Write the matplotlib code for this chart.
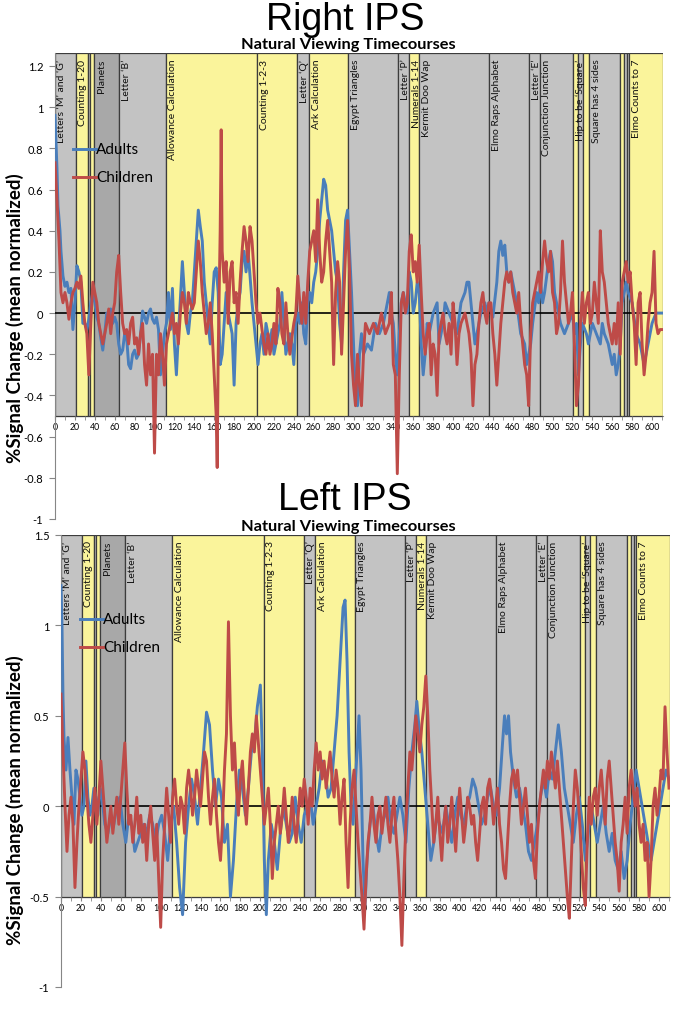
import matplotlib.pyplot as plt
from matplotlib.lines import Line2D
from matplotlib.ticker import MultipleLocator, FuncFormatter

plt.rcParams['font.family'] = ['Lato', 'DejaVu Sans']
plt.rcParams['axes.unicode_minus'] = False

# movie clips (seconds) shown behind the timecourses
seg_start = [0, 21, 33, 35.5, 39.5, 64.6, 111.5, 203.3, 243.5, 255.3, 294.8, 345, 355.8,
             366, 436.5, 476.7, 487.4, 521, 526, 531, 536.7, 567.8, 572, 574.5, 577]
seg_end = seg_start[1:] + [611]
seg_kind = ['g', 'y', 'g', 'y', 'd', 'g', 'y', 'y', 'g', 'y', 'g', 'g', 'y',
            'g', 'g', 'g', 'g', 'y', 'g', 'y', 'g', 'y', 'g', 'g', 'y']
seg_label = ['Letters ‘M’ and ‘G’', 'Counting 1-20', '', '', 'Planets', 'Letter ‘B’',
             'Allowance Calculation', 'Counting 1-2-3', 'Letter ‘Q’', 'Ark Calculation',
             'Egypt Triangles', 'Letter ‘P’', 'Numerals 1-14', 'Kermit Doo Wap',
             'Elmo Raps Alphabet', 'Letter ‘E’', 'Conjunction Junction', 'Hip to be ‘Square’',
             '', '', 'Square has 4 sides', '', '', '', 'Elmo Counts to 7']

# Right IPS
r_adult_t = [0, 2, 3, 5, 6, 8, 10, 12, 14, 16, 18, 20, 22, 24, 26, 28, 30, 32, 34, 36, 38, 40,
             42, 44, 46, 48, 50, 52, 54, 56, 58, 60, 62, 64, 66, 68, 70, 72, 74, 76, 78, 80, 82,
             84, 86, 88, 90, 92, 94, 96, 98, 100, 102, 104, 106, 108, 110, 112, 114, 116, 118,
             120, 122, 124, 126, 128, 130, 132, 134, 136, 138, 140, 142, 144, 146, 148, 150,
             152, 154, 156, 158, 160, 162, 164, 166, 168, 170, 172, 174, 176, 178, 180, 182,
             184, 186, 188, 190, 192, 194, 196, 198, 200, 202, 204, 206, 208, 210, 212, 214,
             216, 218, 220, 222, 224, 226, 228, 230, 232, 234, 236, 238, 240, 242, 244, 246,
             248, 250, 252, 254, 256, 258, 260, 262, 264, 266, 268, 270, 272, 274, 276, 278,
             280, 282, 284, 286, 288, 290, 292, 294, 296, 298, 300, 302, 304, 306, 308, 310,
             314, 318, 322, 326, 330, 334, 336, 338, 340, 342, 344, 346, 348, 350, 352, 354,
             356, 358, 360, 362, 364, 366, 368, 370, 372, 374, 376, 378, 380, 384, 386, 388,
             390, 392, 396, 400, 404, 408, 412, 414, 416, 418, 420, 422, 424, 428, 432, 434,
             436, 440, 444, 446, 448, 450, 452, 454, 456, 458, 460, 462, 464, 468, 472, 474,
             476, 478, 480, 484, 486, 488, 490, 492, 496, 498, 500, 502, 504, 506, 508, 512,
             516, 520, 522, 524, 526, 528, 530, 534, 536, 540, 544, 548, 550, 552, 556, 558,
             560, 562, 564, 566, 568, 570, 572, 574, 576, 580, 584, 588, 592, 594, 598, 600,
             604, 608, 610]
r_adult = [0.96, 0.70, 0.52, 0.40, 0.30, 0.18, 0.13, 0.15, 0.10, 0.12, -0.08, 0.05, 0.23, 0.20,
           0.15, -0.05, -0.05, -0.08, -0.03, 0.05, 0.10, 0.05, -0.02, -0.05, -0.12, -0.18,
           -0.10, 0.00, -0.02, 0.02, -0.05, -0.02, -0.05, -0.15, -0.20, -0.18, -0.10, -0.12,
           -0.25, -0.27, -0.20, -0.18, -0.22, -0.20, -0.10, 0.01, -0.02, -0.05, 0.00, 0.02,
           -0.03, -0.05, -0.02, -0.08, -0.30, -0.20, -0.10, -0.05, 0.10, -0.08, 0.12, -0.15,
           -0.30, -0.10, 0.07, 0.25, 0.10, -0.05, -0.10, 0.00, 0.05, 0.20, 0.35, 0.50, 0.42,
           0.35, 0.15, 0.05, -0.05, -0.15, 0.05, 0.20, 0.22, 0.10, -0.25, -0.20, -0.05, 0.10,
           0.00, -0.05, -0.10, -0.35, -0.05, 0.05, 0.10, 0.25, 0.30, 0.20, 0.30, 0.18, 0.05,
           -0.05, -0.15, -0.25, -0.15, -0.10, -0.20, -0.05, -0.10, -0.15, -0.08, -0.20, -0.15,
           -0.10, -0.05, 0.10, -0.05, -0.20, -0.15, -0.10, -0.15, -0.25, -0.05, 0.00, -0.05,
           0.05, -0.10, -0.15, 0.05, 0.10, 0.05, 0.15, 0.20, 0.30, 0.45, 0.55, 0.65, 0.62,
           0.50, 0.45, 0.40, 0.30, 0.20, 0.15, -0.05, -0.15, 0.20, 0.45, 0.50, 0.30, 0.10,
           -0.15, -0.40, -0.45, -0.20, -0.10, -0.20, -0.15, -0.18, -0.05, -0.10, -0.05, 0.05,
           0.10, 0.00, -0.05, -0.20, -0.30, -0.10, 0.05, 0.10, 0.05, 0.00, 0.20, 0.15, 0.00,
           0.05, 0.15, 0.10, -0.15, -0.30, -0.20, -0.05, -0.10, -0.05, 0.00, 0.05, -0.15,
           -0.10, -0.05, 0.05, 0.00, -0.05, -0.10, 0.05, 0.10, 0.15, 0.15, 0.05, -0.05, -0.15,
           -0.10, 0.00, 0.05, 0.00, 0.05, -0.02, 0.15, 0.30, 0.35, 0.28, 0.33, 0.20, 0.15,
           0.20, 0.15, 0.10, 0.05, -0.10, -0.15, -0.25, -0.20, -0.15, -0.05, 0.10, 0.05, 0.15,
           0.05, 0.10, 0.25, 0.30, 0.25, 0.10, 0.05, 0.00, -0.05, -0.10, -0.05, 0.00, -0.10,
           -0.05, -0.30, -0.15, -0.05, -0.10, -0.15, -0.05, -0.10, -0.15, -0.05, -0.10, -0.15,
           -0.20, -0.25, -0.20, -0.30, -0.25, -0.15, 0.05, 0.10, 0.15, 0.10, 0.05, -0.10,
           -0.15, -0.25, -0.20, -0.10, -0.05, 0.00, 0.00, 0.00]

r_child_t = [0, 2, 4, 6, 8, 10, 12, 14, 16, 18, 20, 22, 24, 26, 28, 30, 32, 34, 36, 38, 40, 42,
             44, 46, 48, 50, 52, 54, 56, 58, 60, 62, 64, 66, 68, 70, 72, 74, 76, 78, 80, 82, 84,
             86, 88, 90, 92, 94, 96, 98, 100, 102, 104, 106, 108, 110, 112, 114, 116, 118, 120,
             122, 124, 126, 128, 130, 132, 134, 136, 138, 140, 142, 144, 146, 148, 150, 152,
             154, 156, 158, 160, 162, 163, 164, 166, 167, 168, 170, 172, 174, 176, 178, 180,
             182, 184, 186, 188, 190, 192, 194, 196, 198, 200, 202, 204, 206, 208, 210, 212,
             214, 216, 218, 220, 222, 224, 226, 228, 230, 232, 234, 236, 238, 240, 242, 244,
             246, 248, 250, 252, 254, 256, 258, 260, 262, 264, 266, 268, 270, 272, 274, 276,
             278, 280, 282, 284, 286, 288, 290, 292, 294, 296, 298, 300, 302, 304, 306, 308,
             310, 312, 316, 320, 324, 328, 332, 336, 338, 340, 342, 344, 346, 348, 350, 352,
             354, 356, 358, 360, 362, 364, 366, 368, 370, 372, 374, 376, 378, 380, 382, 384,
             386, 388, 390, 392, 394, 396, 398, 400, 402, 404, 406, 408, 412, 414, 416, 418,
             420, 422, 424, 426, 428, 430, 432, 434, 436, 438, 440, 442, 444, 446, 448, 450,
             452, 454, 456, 458, 460, 462, 464, 466, 468, 470, 472, 474, 476, 478, 480, 482,
             484, 486, 488, 490, 492, 494, 496, 498, 500, 502, 504, 506, 508, 510, 512, 514,
             516, 518, 520, 522, 524, 526, 528, 530, 532, 534, 536, 538, 540, 542, 544, 546,
             548, 550, 552, 554, 556, 558, 560, 562, 564, 566, 568, 570, 572, 574, 576, 578,
             580, 582, 584, 586, 588, 590, 592, 594, 596, 598, 600, 602, 604, 606, 608, 610]
r_child = [0.73, 0.55, 0.35, 0.10, 0.05, 0.10, 0.05, -0.03, 0.05, 0.10, 0.12, 0.15, 0.12, 0.18,
           0.05, -0.05, -0.10, -0.30, -0.05, 0.15, 0.10, 0.05, -0.05, -0.10, -0.15, -0.10,
           -0.05, 0.02, -0.10, 0.00, 0.05, 0.20, 0.28, 0.10, -0.05, -0.10, -0.08, -0.15, -0.05,
           -0.02, -0.15, -0.12, -0.20, -0.10, -0.05, -0.25, -0.35, -0.15, -0.30, -0.20, -0.68,
           -0.20, -0.30, -0.10, -0.20, -0.35, -0.15, -0.10, -0.05, 0.00, -0.10, -0.05, -0.15,
           0.00, 0.10, 0.05, -0.05, 0.10, 0.05, 0.02, 0.05, 0.20, 0.35, 0.25, 0.10, 0.00,
           -0.10, -0.05, 0.05, -0.10, -0.30, -0.50, -0.75, -0.20, 0.40, 0.89, 0.30, 0.15, 0.25,
           -0.05, 0.20, 0.25, 0.05, 0.10, -0.05, 0.15, 0.30, 0.42, 0.35, 0.25, 0.42, 0.35,
           0.20, 0.05, -0.05, 0.00, -0.08, -0.15, -0.20, -0.10, -0.20, -0.15, -0.05, -0.15,
           0.12, 0.05, -0.10, -0.15, 0.05, -0.10, -0.20, -0.12, -0.05, 0.00, 0.18, 0.05, -0.05,
           0.10, -0.05, 0.15, 0.30, 0.35, 0.40, 0.25, 0.55, 0.30, 0.15, 0.20, 0.35, 0.45, 0.30,
           0.15, -0.25, 0.10, 0.25, 0.15, -0.20, 0.05, 0.30, 0.45, 0.20, -0.20, -0.35, -0.45,
           -0.20, -0.35, -0.45, -0.20, -0.05, -0.10, -0.05, -0.10, 0.00, -0.10, -0.05, 0.10,
           -0.25, -0.30, -0.78, -0.30, 0.05, 0.10, 0.00, 0.05, 0.30, 0.38, 0.20, 0.25, 0.15,
           0.33, 0.10, -0.10, -0.20, -0.10, -0.05, -0.30, -0.15, -0.20, -0.40, -0.10, -0.05,
           0.00, -0.10, -0.15, -0.05, -0.20, 0.05, -0.05, -0.25, -0.10, -0.05, 0.00, -0.05,
           -0.10, -0.20, -0.45, -0.25, -0.20, -0.05, 0.05, 0.10, 0.00, -0.05, 0.05, 0.05,
           -0.10, -0.20, -0.35, -0.20, -0.05, 0.05, 0.15, 0.20, 0.15, 0.20, 0.10, 0.05, 0.00,
           0.10, -0.05, -0.15, -0.25, -0.30, -0.45, -0.10, 0.05, 0.10, 0.15, 0.20, 0.10, 0.25,
           0.35, 0.25, 0.20, 0.30, 0.10, 0.05, -0.10, -0.05, 0.10, 0.35, 0.15, 0.05, -0.05,
           0.00, 0.10, -0.15, -0.45, -0.35, -0.05, 0.10, -0.05, 0.05, 0.10, -0.05, 0.00, 0.15,
           0.05, -0.05, 0.40, 0.20, 0.15, 0.05, -0.05, -0.10, -0.15, -0.05, -0.15, 0.05, -0.20,
           0.15, 0.20, 0.25, 0.15, 0.20, 0.05, -0.05, -0.25, 0.05, 0.10, -0.15, -0.30, -0.20,
           -0.05, 0.05, 0.10, 0.30, -0.05, -0.10, -0.08, -0.08]

# Left IPS
l_adult_t = [0, 1, 2, 3, 5, 7, 9, 11, 13, 15, 17, 19, 21, 23, 25, 27, 29, 31, 33, 35, 37, 39,
             41, 44, 47, 50, 53, 56, 59, 62, 65, 68, 71, 74, 77, 80, 83, 86, 89, 92, 95, 98,
             101, 104, 107, 110, 113, 116, 119, 122, 125, 128, 131, 134, 137, 140, 143, 146,
             149, 152, 155, 158, 161, 164, 167, 170, 173, 176, 179, 182, 185, 188, 191, 194,
             197, 200, 202, 204, 206, 208, 211, 214, 217, 220, 223, 226, 229, 232, 235, 238,
             241, 244, 247, 250, 253, 256, 259, 262, 265, 268, 271, 274, 277, 280, 283, 285,
             287, 289, 291, 293, 295, 297, 299, 301, 303, 305, 307, 310, 313, 316, 319, 322,
             325, 328, 331, 334, 337, 340, 343, 346, 349, 352, 355, 357, 359, 362, 365, 368,
             371, 374, 377, 380, 383, 386, 389, 392, 395, 398, 401, 404, 407, 410, 413, 416,
             419, 422, 425, 428, 431, 434, 437, 440, 443, 445, 447, 449, 451, 454, 457, 460,
             463, 466, 469, 472, 475, 478, 481, 484, 487, 490, 493, 496, 499, 502, 505, 508,
             511, 514, 517, 520, 523, 526, 529, 532, 535, 538, 541, 544, 547, 550, 553, 556,
             559, 562, 565, 568, 571, 574, 577, 580, 583, 586, 589, 592, 595, 598, 601, 604,
             607, 610]
l_adult = [1.22, 1.00, 0.60, 0.38, 0.20, 0.38, 0.20, 0.05, -0.10, 0.20, 0.15, 0.05, -0.05,
           0.00, 0.25, 0.05, -0.05, 0.00, 0.10, 0.05, -0.05, 0.10, 0.05, -0.10, -0.15, -0.05,
           -0.10, 0.00, 0.05, -0.10, -0.20, -0.05, -0.10, -0.25, -0.20, -0.15, -0.10, -0.15,
           -0.05, -0.10, -0.20, -0.10, -0.05, -0.15, -0.30, -0.10, 0.00, -0.20, -0.45, -0.60,
           -0.20, 0.00, 0.15, 0.05, -0.10, 0.10, 0.30, 0.52, 0.45, 0.20, 0.00, 0.15, 0.05,
           -0.20, -0.10, -0.50, -0.30, 0.00, 0.20, 0.10, -0.05, 0.10, 0.30, 0.35, 0.55, 0.67,
           0.30, -0.30, -0.60, -0.30, -0.10, -0.20, -0.35, -0.15, 0.00, -0.10, -0.20, -0.15,
           0.05, -0.10, -0.20, -0.05, 0.00, 0.05, -0.10, 0.00, 0.10, 0.25, 0.20, 0.05, 0.10,
           0.30, 0.50, 0.80, 1.10, 1.14, 0.80, 0.30, 0.00, -0.10, 0.10, 0.30, 0.50, 0.20,
           -0.30, -0.55, -0.30, -0.10, 0.00, -0.15, -0.25, -0.10, -0.05, 0.05, -0.10, -0.15,
           -0.05, 0.05, -0.05, -0.20, 0.10, 0.30, 0.45, 0.58, 0.45, 0.30, 0.10, -0.10, -0.30,
           -0.20, -0.05, -0.10, -0.15, 0.00, -0.10, -0.20, -0.05, 0.05, -0.05, -0.10, 0.00,
           0.05, 0.15, 0.10, 0.00, -0.10, -0.05, 0.05, 0.10, 0.00, -0.05, 0.10, 0.35, 0.50,
           0.40, 0.50, 0.30, 0.15, 0.05, 0.10, 0.00, -0.10, -0.25, -0.30, -0.20, -0.10, 0.05,
           0.15, 0.05, 0.20, 0.15, 0.30, 0.45, 0.30, 0.10, 0.00, -0.10, -0.20, -0.05, 0.05,
           -0.10, -0.30, -0.15, 0.00, -0.10, -0.20, -0.10, 0.00, -0.15, -0.25, -0.15, -0.30,
           -0.35, -0.25, -0.40, -0.30, -0.10, 0.05, 0.20, 0.10, 0.00, -0.10, -0.20, -0.30,
           -0.20, -0.10, 0.00, 0.10, 0.20, 0.15]

l_child_t = list(range(0, 168, 2)) + [168] + list(range(170, 612, 2))
l_child = [0.62, 0.30, 0.00, -0.25, -0.05, 0.05, -0.10, -0.45, -0.20, 0.00, 0.15, 0.30, 0.20,
           0.05, -0.10, -0.20, -0.05, 0.10, -0.10, 0.05, 0.25, 0.10, -0.05, -0.20, -0.10,
           0.00, -0.15, -0.05, 0.05, -0.10, 0.05, 0.20, 0.35, 0.10, -0.10, -0.05, -0.20,
           -0.10, 0.05, -0.15, -0.05, -0.20, -0.10, -0.30, -0.10, 0.00, -0.15, -0.30, -0.10,
           -0.40, -0.67, -0.30, -0.10, 0.10, -0.05, -0.20, 0.05, 0.15, 0.00, -0.10, 0.05,
           0.00, -0.15, 0.10, 0.20, 0.10, -0.05, 0.05, 0.20, 0.10, 0.00, 0.15, 0.30, 0.25,
           0.05, -0.10, 0.05, 0.15, -0.05, -0.20, -0.30, -0.10, 0.20, 0.40, 1.02, 0.50, 0.20,
           0.35, 0.10, -0.05, 0.15, 0.25, 0.05, -0.10, 0.10, 0.30, 0.40, 0.30, 0.50, 0.35,
           0.20, 0.05, -0.10, 0.00, 0.10, -0.10, -0.40, -0.20, -0.10, 0.00, -0.15, -0.05,
           0.10, -0.05, -0.20, -0.10, 0.05, -0.10, -0.20, -0.05, 0.10, 0.00, 0.15, 0.05,
           -0.10, 0.10, 0.00, 0.20, 0.35, 0.20, 0.30, 0.15, 0.25, 0.10, 0.20, 0.30, 0.15,
           0.05, 0.20, 0.10, -0.10, 0.05, 0.15, -0.20, -0.45, -0.10, 0.10, 0.20, 0.00, -0.20,
           -0.35, -0.50, -0.68, -0.40, -0.20, -0.10, 0.05, -0.10, -0.20, -0.05, 0.00, -0.15,
           -0.05, 0.05, -0.10, -0.20, -0.05, 0.05, -0.15, -0.30, -0.50, -0.77, -0.40, -0.10,
           0.10, 0.30, 0.20, 0.35, 0.50, 0.40, 0.30, 0.45, 0.55, 0.72, 0.50, 0.20, 0.00,
           -0.20, -0.10, 0.05, -0.15, -0.30, -0.10, 0.00, -0.20, -0.10, 0.05, -0.10, -0.25,
           -0.05, 0.10, -0.05, -0.20, -0.10, 0.05, 0.00, -0.10, -0.05, -0.20, -0.30, -0.15,
           0.00, 0.05, -0.10, 0.10, 0.15, 0.05, -0.10, 0.00, 0.10, -0.10, -0.20, -0.35,
           -0.40, -0.20, 0.00, 0.15, 0.20, 0.10, 0.20, 0.05, -0.10, 0.00, 0.10, -0.05, -0.20,
           -0.10, -0.30, -0.40, -0.15, 0.00, 0.10, 0.20, 0.10, 0.25, 0.15, 0.30, 0.20, 0.10,
           0.25, 0.10, -0.05, -0.20, -0.35, -0.50, -0.62, -0.30, 0.00, 0.20, 0.10, -0.05,
           -0.25, -0.45, -0.55, -0.20, 0.05, -0.10, 0.05, 0.10, -0.05, 0.10, 0.20, 0.05,
           -0.10, 0.15, 0.25, 0.10, -0.05, -0.20, -0.30, -0.47, -0.20, -0.10, 0.05, -0.15,
           0.10, 0.20, 0.10, 0.00, 0.10, -0.10, -0.20, -0.10, -0.30, -0.20, -0.50, -0.30,
           0.00, 0.10, -0.05, 0.05, 0.20, 0.15, 0.55, 0.30, 0.10]

W, H = 683, 1012
BLUE = '#4a7ebb'
RED = '#be4b48'
FILL = {'y': '#faf49b', 'g': '#c3c3c3', 'd': '#a8a8a8'}


def fx(px):
    return px / W


def fy(py):
    return 1 - py / H


def draw_panel(ax, ytop, yticks, adult_t, adult, child_t, child):
    ax.set_xlim(0, 611)
    ax.set_ylim(-1, ytop)
    ax.bar(seg_start, [ytop + 0.5] * len(seg_start), bottom=-0.5,
           width=[e - s for s, e in zip(seg_start, seg_end)], align='edge',
           color=[FILL[k] for k in seg_kind], edgecolor='#3c3c3c', linewidth=0.9, zorder=1)
    for s, lab in zip(seg_start, seg_label):
        if lab:
            ax.text(s + 7, ytop - 0.012 * (ytop + 1), lab, rotation=90, ha='center', va='top',
                    fontsize=7.5, color='#111111', zorder=2)
    ax.axhline(0, color='black', lw=1.2, zorder=3)
    ax.plot(adult_t, adult, color=BLUE, lw=2.1, zorder=4, solid_joinstyle='round')
    ax.plot(child_t, child, color=RED, lw=2.1, zorder=5, solid_joinstyle='round')

    for side in ('top', 'right'):
        ax.spines[side].set_visible(False)
    ax.spines['left'].set_color('#868686')
    ax.spines['bottom'].set_color('#868686')
    ax.spines['bottom'].set_position(('data', -0.5))
    ax.spines['bottom'].set_zorder(0.5)
    ax.set_yticks(yticks)
    ax.yaxis.set_major_formatter(FuncFormatter(lambda v, p: f'{v:g}'))
    ax.tick_params(axis='y', direction='out', length=4, color='#868686', labelsize=8, pad=4.5)
    ax.xaxis.set_major_locator(MultipleLocator(20))
    ax.xaxis.set_minor_locator(MultipleLocator(10))
    ax.tick_params(axis='x', which='both', direction='out', length=3, color='#868686',
                   labelsize=6.3, pad=1.5)
    ax.set_facecolor('none')


fig = plt.figure(figsize=(W / 100, H / 100), dpi=100)

ax1 = fig.add_axes([fx(55), fy(520), fx(663) - fx(55), (520 - 54) / H])
draw_panel(ax1, 1.263, [-1, -0.8, -0.6, -0.4, -0.2, 0, 0.2, 0.4, 0.6, 0.8, 1, 1.2],
           r_adult_t, r_adult, r_child_t, r_child)

ax2 = fig.add_axes([fx(61), fy(988), fx(670) - fx(61), (988 - 536) / H])
draw_panel(ax2, 1.5, [-1, -0.5, 0, 0.5, 1, 1.5],
           l_adult_t, l_adult, l_child_t, l_child)

# titles
fig.text(fx(345), fy(20), 'Right IPS', family='Liberation Sans', fontsize=27,
         ha='center', va='center')
fig.text(fx(348), fy(45), 'Natural Viewing Timecourses', fontsize=11.8, weight='bold',
         ha='center', va='center')
fig.text(fx(345), fy(500), 'Left IPS', family='Liberation Sans', fontsize=27,
         ha='center', va='center')
fig.text(fx(348), fy(527), 'Natural Viewing Timecourses', fontsize=11.8, weight='bold',
         ha='center', va='center')

# y labels
for y in (318, 800):
    fig.text(fx(15), fy(y), '%Signal Change (mean normalized)', rotation=90, fontsize=13.5,
             weight='bold', ha='center', va='center')

# legends
for (x0, ya, yc) in ((73, 150, 178), (80, 620, 648)):
    for yy, col, lab in ((ya, BLUE, 'Adults'), (yc, RED, 'Children')):
        fig.add_artist(Line2D([fx(x0), fx(x0 + 23)], [fy(yy), fy(yy)], color=col, lw=2.1))
        fig.text(fx(x0 + 23), fy(yy), lab, fontsize=11, ha='left', va='center')

fig.savefig('out.png', dpi=100)
